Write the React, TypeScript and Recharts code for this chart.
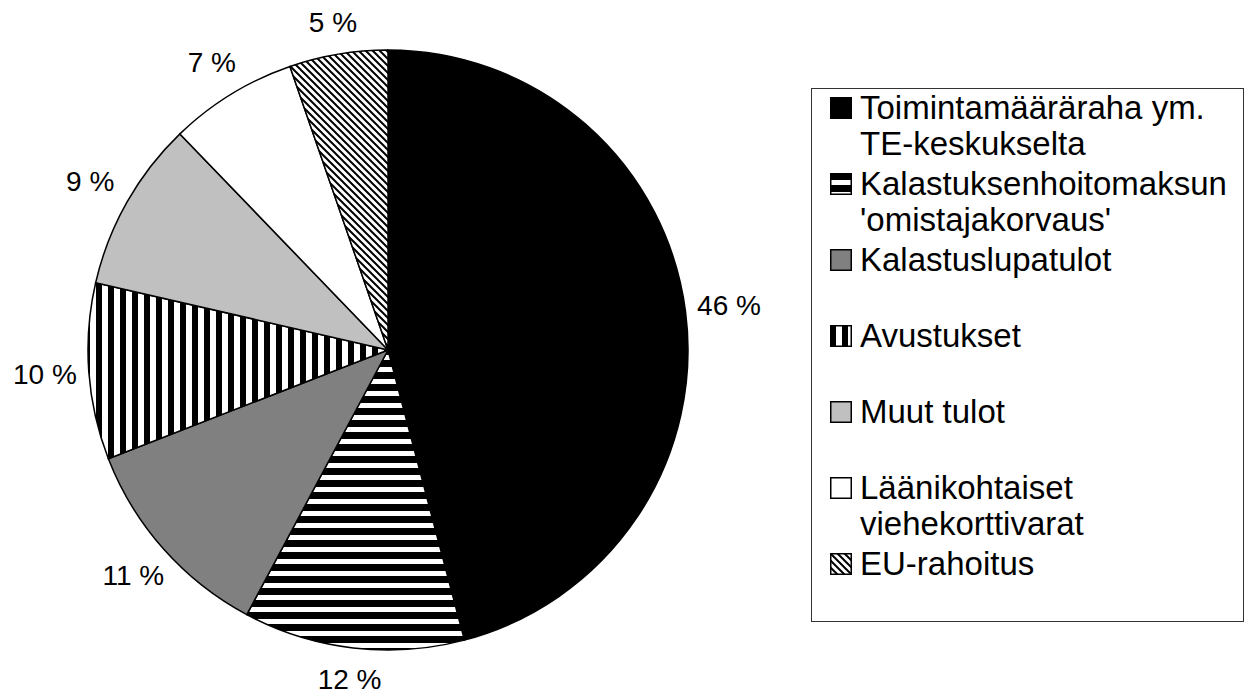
import React from "react";
import { PieChart, Pie, Cell, Legend } from "recharts";

// slice names, in drawing order (clockwise from 12 o'clock)
const names = [
  "Toimintamääräraha ym. TE-keskukselta",
  "Kalastuksenhoitomaksun 'omistajakorvaus'",
  "Kalastuslupatulot",
  "Avustukset",
  "Muut tulot",
  "Läänikohtaiset viehekorttivarat",
  "EU-rahoitus",
];

// shares in percent
const values = [45.9, 11.9, 11.3, 9.5, 9.2, 6.9, 5.3];

const fills = [
  "#000000",
  "url(#hstripe)",
  "#808080",
  "url(#vstripe)",
  "#C0C0C0",
  "#FFFFFF",
  "url(#diag)",
];

const data = names.map((name, i) => ({ name, value: values[i] }));

const FONT = "'Liberation Sans', Arial, Helvetica, sans-serif";
const RADIAN = Math.PI / 180;

// labels sit outside the rim; wide text needs more room left/right than top/bottom
const renderLabel = ({ cx, cy, midAngle, outerRadius, value }: any) => {
  const c = Math.cos(-midAngle * RADIAN);
  const s = Math.sin(-midAngle * RADIAN);
  const r = outerRadius + 30 + 14 * Math.abs(c);
  return (
    <text
      x={cx + r * c}
      y={cy + r * s}
      textAnchor="middle"
      dominantBaseline="central"
      fill="#000"
      fontSize={28}
      fontFamily={FONT}
    >
      {`${Math.round(value)} %`}
    </text>
  );
};

const renderLegend = () => (
  <div
    style={{
      boxSizing: "border-box",
      width: "100%",
      height: "100%",
      border: "1.5px solid #333",
      background: "#fff",
      paddingTop: 1,
      fontFamily: FONT,
      fontSize: 33,
      color: "#000",
    }}
  >
    {names.map((name, i) => (
      <div key={name} style={{ display: "flex", height: 76, alignItems: "flex-start" }}>
        <svg width={22} height={22} style={{ marginLeft: 18, marginTop: 7, flex: "none" }}>
          <rect x={0.75} y={0.75} width={20.5} height={20.5} fill={fills[i]} stroke="#000" strokeWidth={1.5} />
        </svg>
        <div style={{ marginLeft: 8, width: 376, lineHeight: "36px" }}>{name}</div>
      </div>
    ))}
  </div>
);

export default function App() {
  return (
    <div style={{ position: "absolute", left: 0, top: 0, background: "#fff" }}>
      <PieChart width={1249} height={698} margin={{ top: 0, right: 0, bottom: 0, left: 0 }}>
        <defs>
          <pattern id="hstripe" patternUnits="userSpaceOnUse" width={12} height={12}>
            <rect width={12} height={12} fill="#fff" />
            <rect width={12} height={7} fill="#000" />
          </pattern>
          <pattern id="vstripe" patternUnits="userSpaceOnUse" width={12} height={12}>
            <rect width={12} height={12} fill="#fff" />
            <rect width={6} height={12} fill="#000" />
          </pattern>
          <pattern id="diag" patternUnits="userSpaceOnUse" width={7} height={7}>
            <rect width={7} height={7} fill="#fff" />
            <path d="M0,0 L7,7 M-2,5 L2,9 M5,-2 L9,2" stroke="#000" strokeWidth={2} />
          </pattern>
        </defs>
        <Pie
          data={data}
          dataKey="value"
          nameKey="name"
          cx={388}
          cy={350}
          outerRadius={300}
          startAngle={90}
          endAngle={-270}
          stroke="#000"
          strokeWidth={1.5}
          label={renderLabel}
          labelLine={false}
          isAnimationActive={false}
        >
          {data.map((d, i) => (
            <Cell key={d.name} fill={fills[i]} />
          ))}
        </Pie>
        <Legend
          content={renderLegend}
          wrapperStyle={{ position: "absolute", left: 811, top: 88, width: 433, height: 534 }}
        />
      </PieChart>
    </div>
  );
}
